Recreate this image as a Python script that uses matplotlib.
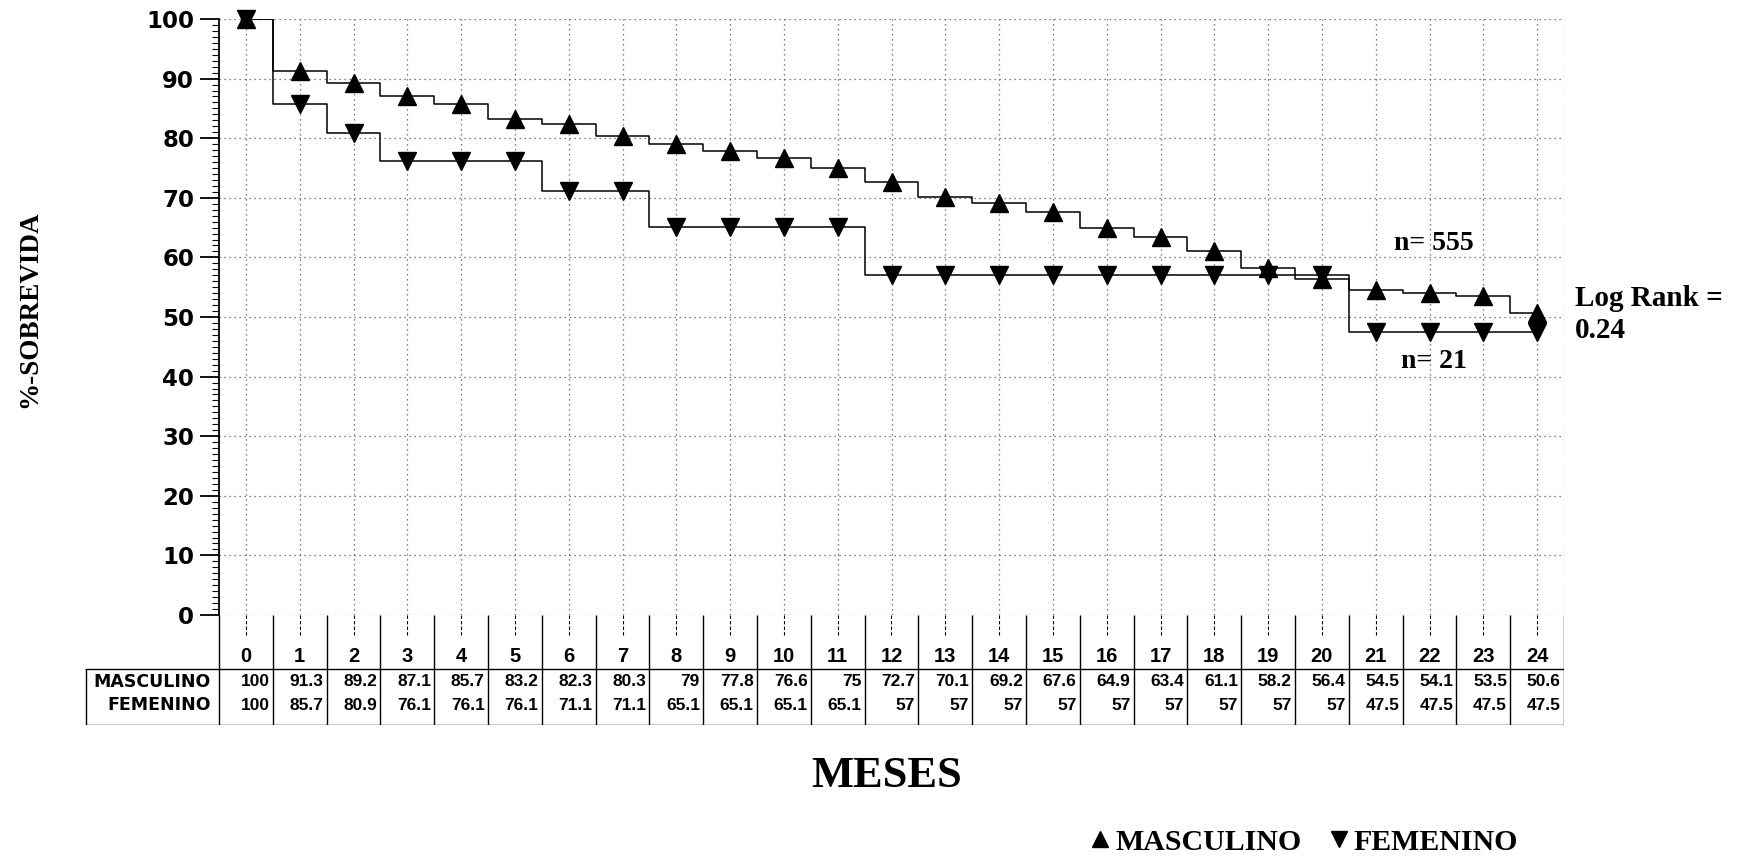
import matplotlib
matplotlib.use("Agg")
import matplotlib.pyplot as plt
from matplotlib.ticker import MultipleLocator
from matplotlib.lines import Line2D

# ---------------- data ----------------
months = list(range(25))
masculino = [100, 91.3, 89.2, 87.1, 85.7, 83.2, 82.3, 80.3, 79, 77.8, 76.6, 75,
             72.7, 70.1, 69.2, 67.6, 64.9, 63.4, 61.1, 58.2, 56.4, 54.5, 54.1,
             53.5, 50.6]
femenino = [100, 85.7, 80.9, 76.1, 76.1, 76.1, 71.1, 71.1, 65.1, 65.1, 65.1,
            65.1, 57, 57, 57, 57, 57, 57, 57, 57, 57, 47.5, 47.5, 47.5, 47.5]
series_names = ["MASCULINO", "FEMENINO"]
y_ticks = list(range(0, 101, 10))
x_label = "MESES"
y_label = "%-SOBREVIDA"
n_masc = "n= 555"
n_fem = "n= 21"
log_rank_lines = ["Log Rank =", "0.24"]

W, H = 1745, 856
fig = plt.figure(figsize=(W / 100, H / 100), dpi=100)
fig.patch.set_facecolor("white")

SERIF = ["Liberation Serif", "DejaVu Serif"]
SANS = ["Liberation Sans", "DejaVu Sans"]

# ---------------- main axes ----------------
ax_left, ax_right, ax_top, ax_bot = 219, 1564, 19, 615
ax = fig.add_axes([ax_left / W, 1 - ax_bot / H, (ax_right - ax_left) / W,
                   (ax_bot - ax_top) / H])
ax.set_xlim(-0.5, 24.5)
ax.set_ylim(0, 100)

ax.step(months, masculino, where="mid", color="k", lw=1.1, zorder=3)
ax.step(months, femenino, where="mid", color="k", lw=1.1, zorder=3)
ax.plot(months, masculino, ls="none", marker="^", ms=13, color="k",
        clip_on=False, zorder=4)
ax.plot(months, femenino, ls="none", marker="v", ms=13, color="k",
        clip_on=False, zorder=4)

ax.set_yticks(y_ticks)
ax.yaxis.set_minor_locator(MultipleLocator(1))
ax.set_xticks(months)
ax.set_xticklabels([])
ax.tick_params(axis="x", length=0)
ax.tick_params(axis="y", which="major", length=14, width=1.3, pad=4,
               labelsize=16.5)
ax.tick_params(axis="y", which="minor", length=5, width=0.8)
for lbl in ax.get_yticklabels():
    lbl.set_fontfamily("DejaVu Sans")
    lbl.set_fontweight("bold")

ax.grid(True, which="major", axis="both", color="#555555",
        ls=(0, (1, 3)), lw=0.9)
ax.set_axisbelow(True)
for s in ["top", "right", "bottom"]:
    ax.spines[s].set_visible(False)
ax.spines["left"].set_linewidth(1.3)
ax.axvline(24.5, color="#555555", ls=(0, (1, 3)), lw=0.9)

ax.text(22.08, 62.3, n_masc, ha="center", va="center", fontsize=20,
        fontweight="bold", family=SERIF)
ax.text(22.08, 42.6, n_fem, ha="center", va="center", fontsize=20,
        fontweight="bold", family=SERIF)
ax.text(24.70, 53.1, log_rank_lines[0], ha="left", va="center", fontsize=21,
        fontweight="bold", family=SERIF, clip_on=False)
ax.text(24.70, 47.7, log_rank_lines[1], ha="left", va="center", fontsize=21,
        fontweight="bold", family=SERIF, clip_on=False)

fig.text(30 / W, 1 - 309 / H, y_label, rotation=90, ha="center", va="center",
         fontsize=19.5, fontweight="bold", family=SERIF)

# ---------------- data table ----------------
t_left, t_top, t_bot = 85, 615, 725
px_per_month = (ax_right - ax_left) / 25.0
t_xmin = -0.5 - (ax_left - t_left) / px_per_month
tax = fig.add_axes([t_left / W, 1 - t_bot / H, (ax_right - t_left) / W,
                    (t_bot - t_top) / H])
tax.set_xlim(t_xmin, 24.5)
tax.set_ylim(t_bot - t_top, 0)
tax.axis("off")

row_line = 54
bottom = t_bot - t_top
tax.vlines([k - 0.5 for k in range(26)], 0, bottom, color="k", lw=1.0)
tax.vlines(t_xmin + 0.01, row_line, bottom, color="k", lw=1.0)
tax.hlines([row_line, bottom - 0.5], t_xmin, 24.5, color="k", lw=1.0)
tax.vlines(months, 0, 20, color="k", lw=0.8, ls=(0, (3, 2)))

for m in months:
    tax.text(m, 41, str(m), ha="center", va="center", fontsize=14.5,
             fontweight="bold", family=SANS)

rows = [masculino, femenino]
row_y = [67, 90]
for name, vals, yy in zip(series_names, rows, row_y):
    tax.text(-0.66, yy, name, ha="right", va="center", fontsize=12.5,
             fontweight="bold", family="DejaVu Sans")
    for m, v in zip(months, vals):
        tax.text(m + 0.44, yy, f"{v:g}", ha="right", va="center",
                 fontsize=12.5, fontweight="bold", family=SANS)

# ---------------- x label & legend ----------------
fig.text(887 / W, 1 - 776 / H, x_label, ha="center", va="center",
         fontsize=32, fontweight="bold", family=SERIF)

handles = [Line2D([], [], marker="^", ls="none", color="k", ms=11),
           Line2D([], [], marker="v", ls="none", color="k", ms=11)]
fig.legend(handles, series_names, loc="center left",
           bbox_to_anchor=(1090 / W, 1 - 842 / H), ncol=2, frameon=False,
           handlelength=0.7, handletextpad=0.15, columnspacing=0.9,
           borderpad=0, borderaxespad=0,
           prop={"family": SERIF, "weight": "bold", "size": 21.5})

fig.savefig("out.png", dpi=100, facecolor="white")
